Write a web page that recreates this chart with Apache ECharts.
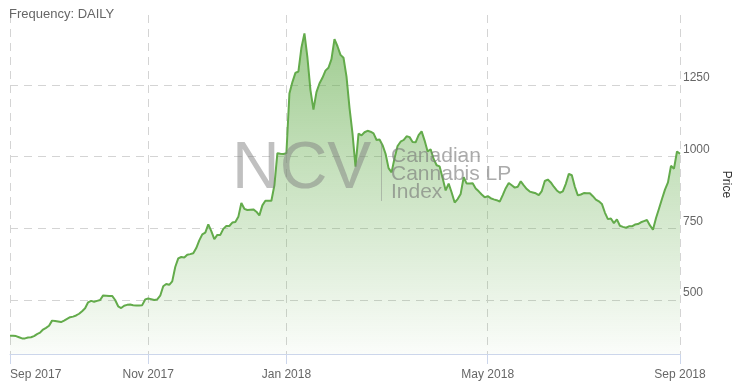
<!DOCTYPE html>
<html>
<head>
<meta charset="utf-8">
<script src="https://cdn.jsdelivr.net/npm/echarts@6/dist/echarts.min.js"></script>
<style>
html,body{margin:0;padding:0;background:#fff;}
#chart{width:735px;height:386px;}
</style>
</head>
<body>
<div id="chart"></div>
<script>
// Daily price of the Canadian Cannabis LP Index (sampled)
const prices = [
375,375,374,370,366,366,369,370,374,381,
386,397,403,410,428,427,425,423,428,434,
440,442,446,452,461,471,492,497,494,497,
500,516,515,514,514,500,478,472,480,483,
484,482,481,481,482,502,505,503,500,502,
515,548,556,553,565,615,645,650,648,658,
660,663,681,708,729,735,764,740,712,727,
727,748,758,758,770,772,790,838,818,814,
815,816,808,795,830,846,846,846,900,1012,
1010,1009,1012,1220,1260,1292,1297,1380,1430,1345,
1232,1164,1225,1255,1275,1300,1310,1340,1410,1385,
1355,1345,1279,1170,1080,965,1080,1074,1085,1090,
1087,1081,1058,1060,1040,1010,960,945,995,1037,
1052,1058,1071,1068,1051,1050,1075,1088,1056,1018,
1026,992,970,966,925,882,906,875,840,852,
870,928,906,906,907,889,879,868,858,862,
855,851,848,843,866,890,908,900,892,895,
914,900,887,878,875,872,866,880,915,920,
910,895,882,874,879,905,940,935,895,865,
868,873,872,872,862,850,844,835,805,782,
784,768,781,759,755,752,757,757,763,765,
771,775,779,760,745,785,818,852,885,910,
968,958,1018,1010
];
const tickLabels = ['Sep 2017', 'Nov 2017', 'Jan 2018', 'May 2018', 'Sep 2018'];
const tickPositions = [0, 46, 92, 159, 223];
const yTickValues = [500, 750, 1000, 1250];
const yRange = [311.6, 1494];

const categories = prices.map((_, i) => {
  const k = tickPositions.indexOf(i);
  return k >= 0 ? tickLabels[k] : '';
});
const isTick = (i) => tickPositions.indexOf(i) >= 0;

const chart = echarts.init(document.getElementById('chart'), null, {renderer: 'canvas'});
const wmColor = 'rgba(120,120,120,0.62)';
chart.setOption({
  animation: false,
  title: {
    text: 'Frequency: DAILY',
    left: 4, top: 3,
    textStyle: {fontFamily: 'Liberation Sans, Arial, sans-serif', fontSize: 13, fontWeight: 'normal', color: '#666'}
  },
  grid: {left: 10, right: 55, top: 15, bottom: 32, containLabel: false, outerBoundsMode: 'none'},
  xAxis: {
    type: 'category',
    data: categories,
    boundaryGap: false,
    axisLine: {show: true, lineStyle: {color: '#ccd6eb', width: 1}},
    axisTick: {show: true, length: 10, interval: isTick, lineStyle: {color: '#ccd6eb'}},
    axisLabel: {
      interval: isTick, margin: 15, color: '#666', fontSize: 12,
      fontFamily: 'Liberation Sans, Arial, sans-serif',
      alignMinLabel: 'left', alignMaxLabel: 'center'
    },
    splitLine: {show: true, interval: isTick, lineStyle: {color: '#d4d4d4', type: [8, 6], width: 1}}
  },
  yAxis: {
    type: 'value',
    position: 'right',
    min: yRange[0], max: yRange[1],
    name: 'Price',
    nameLocation: 'middle',
    nameRotate: -90,
    nameGap: 39,
    nameTextStyle: {color: '#333', fontSize: 12, fontFamily: 'Liberation Sans, Arial, sans-serif'},
    axisLine: {show: false},
    axisTick: {show: false, customValues: yTickValues},
    axisLabel: {
      customValues: yTickValues, margin: 3, color: '#666', fontSize: 12,
      fontFamily: 'Liberation Sans, Arial, sans-serif',
      verticalAlign: 'bottom', lineHeight: 14,
      formatter: (v) => String(v)
    },
    splitLine: {show: true, lineStyle: {color: '#d4d4d4', type: [8, 6], width: 1}}
  },
  graphic: [
    {type: 'text', left: 232, top: 137, z: 10, silent: true,
     style: {text: 'NCV', font: '66px "Liberation Sans", Arial, sans-serif', fill: 'rgba(130,130,130,0.5)'}},
    {type: 'rect', shape: {x: 381, y: 143, width: 1, height: 58}, z: 10, silent: true,
     style: {fill: 'rgba(130,130,130,0.45)'}},
    {type: 'text', left: 391, top: 146, z: 10, silent: true,
     style: {text: 'Canadian\nCannabis LP\nIndex', font: '21px "Liberation Sans", Arial, sans-serif', lineHeight: 18, fill: wmColor}}
  ],
  series: [{
    type: 'line',
    data: prices,
    symbol: 'none',
    smooth: false,
    lineStyle: {color: '#63ab4b', width: 2},
    itemStyle: {color: '#63ab4b'},
    areaStyle: {
      color: new echarts.graphic.LinearGradient(0, 0, 0, 1, [
        {offset: 0, color: 'rgba(95,170,70,0.85)'},
        {offset: 1, color: 'rgba(95,170,70,0.04)'}
      ])
    }
  }]
});
</script>
</body>
</html>
